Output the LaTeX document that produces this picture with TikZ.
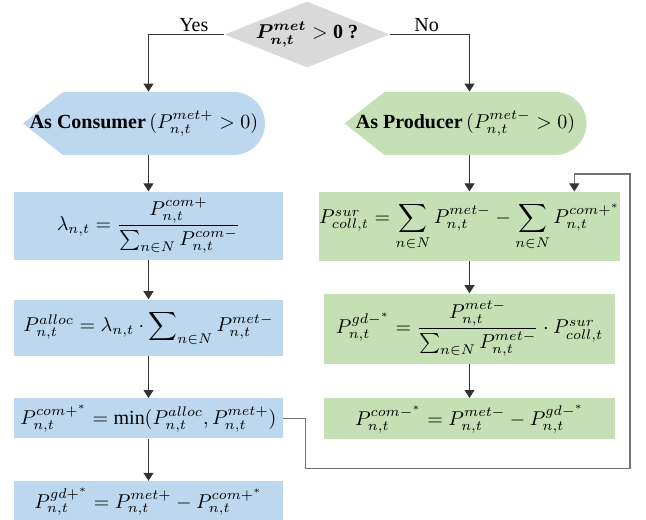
\documentclass[10pt,tikz,border=0pt]{standalone}
\usepackage{amsmath}
\usepackage{fontspec}
\setmainfont{Liberation Serif}
\usetikzlibrary{shapes.geometric,arrows.meta,positioning}

\definecolor{boxblue}{RGB}{189,215,238}
\definecolor{boxgreen}{RGB}{197,224,180}
\definecolor{diagray}{RGB}{217,217,217}

\begin{document}
\begin{tikzpicture}[
  x=0.5pt, y=0.5pt,
  decision/.style={diamond, fill=diagray, shape aspect=2.5, inner sep=0pt, minimum width=79pt, minimum height=31.5pt},
  role/.style={rectangle, inner sep=0pt, minimum width=121pt, minimum height=31.5pt,
    path picture={\fill[#1] (path picture bounding box.west)
      -- ([xshift=20pt]path picture bounding box.north west)
      -- ([xshift=-15.75pt]path picture bounding box.north east)
      arc[start angle=90, end angle=-90, radius=15.75pt]
      -- ([xshift=20pt]path picture bounding box.south west) -- cycle;}},
  bluebox/.style={rectangle, fill=boxblue, inner sep=0pt, minimum width=134.5pt, align=center},
  greenbox/.style={rectangle, fill=boxgreen, inner sep=0pt, minimum width=145.5pt, align=center},
  flow/.style={->, >={Triangle[length=4pt,width=5pt]}, line width=0.5pt, draw=black!80},
  loopline/.style={->, >={Triangle[length=4pt,width=5pt,color=black!80]}, draw=black!55, line width=0.6pt},
]
\path[use as bounding box] (0,0) rectangle (646,-519);

\node[decision] (q) at (307,-34.5) {$\boldsymbol{P_{n,t}^{met}} > \mathbf{0}$ \textbf{?}};
\node[role=boxblue] (cons) at (144,-123.5) {\textbf{As Consumer}\,$(P_{n,t}^{met+} > 0)$};
\node[role=boxgreen] (prod) at (465.5,-123.5) {\textbf{As Producer}\,$(P_{n,t}^{met-} > 0)$};

\node[bluebox, minimum height=34pt, below=18pt of cons, xshift=2.25pt] (lam)
  {$\lambda_{n,t} = \dfrac{P_{n,t}^{com+}}{\sum_{n\in N} P_{n,t}^{com-}}$};
\node[bluebox, minimum height=28pt, below=19.5pt of lam] (alloc)
  {$P_{n,t}^{alloc} = \lambda_{n,t}\cdot \displaystyle\sum\nolimits_{n\in N} P_{n,t}^{met-}$};
\node[bluebox, minimum height=20pt, below=21pt of alloc] (comp)
  {$P_{n,t}^{com+^*} = \min(P_{n,t}^{alloc}, P_{n,t}^{met+})$};
\node[bluebox, minimum height=20.5pt, below=21pt of comp] (gdp)
  {$P_{n,t}^{gd+^*} = P_{n,t}^{met+} - P_{n,t}^{com+^*}$};

\node[greenbox, minimum height=34.5pt, below=18pt of prod, xshift=2pt] (sur)
  {$P_{coll,t}^{sur} = \displaystyle\sum_{n\in N} P_{n,t}^{met-} - \sum_{n\in N} P_{n,t}^{com+^*}$};
\node[greenbox, minimum height=35pt, below=16pt of sur] (gdm)
  {$P_{n,t}^{gd-^*} = \dfrac{P_{n,t}^{met-}}{\sum_{n\in N} P_{n,t}^{met-}}\cdot P_{coll,t}^{sur}$};
\node[greenbox, minimum height=20.5pt, below=17pt of gdm] (comm)
  {$P_{n,t}^{com-^*} = P_{n,t}^{met-} - P_{n,t}^{gd-^*}$};

\draw[flow] (q.west) -| node[pos=0.2, above, inner sep=1pt] {Yes} (lam.north |- cons.north);
\draw[flow] (q.east) -| node[pos=0.23, above, inner sep=1pt] {No} (sur.north |- prod.north);
\draw[flow] (lam.north |- cons.south) -- (lam.north);
\draw[flow] (lam.south) -- (alloc.north);
\draw[flow] (alloc.south) -- (comp.north);
\draw[flow] (comp.south) -- (gdp.north);
\draw[flow] (sur.north |- prod.south) -- (sur.north);
\draw[flow] (sur.south) -- (gdm.north);
\draw[flow] (gdm.south) -- (comm.north);
\draw[loopline] (comp.east) -- ++(11pt,0) |- (630,-468.5) -- (630,-174) -| ([xshift=-23pt]sur.north east);
\end{tikzpicture}
\end{document}
